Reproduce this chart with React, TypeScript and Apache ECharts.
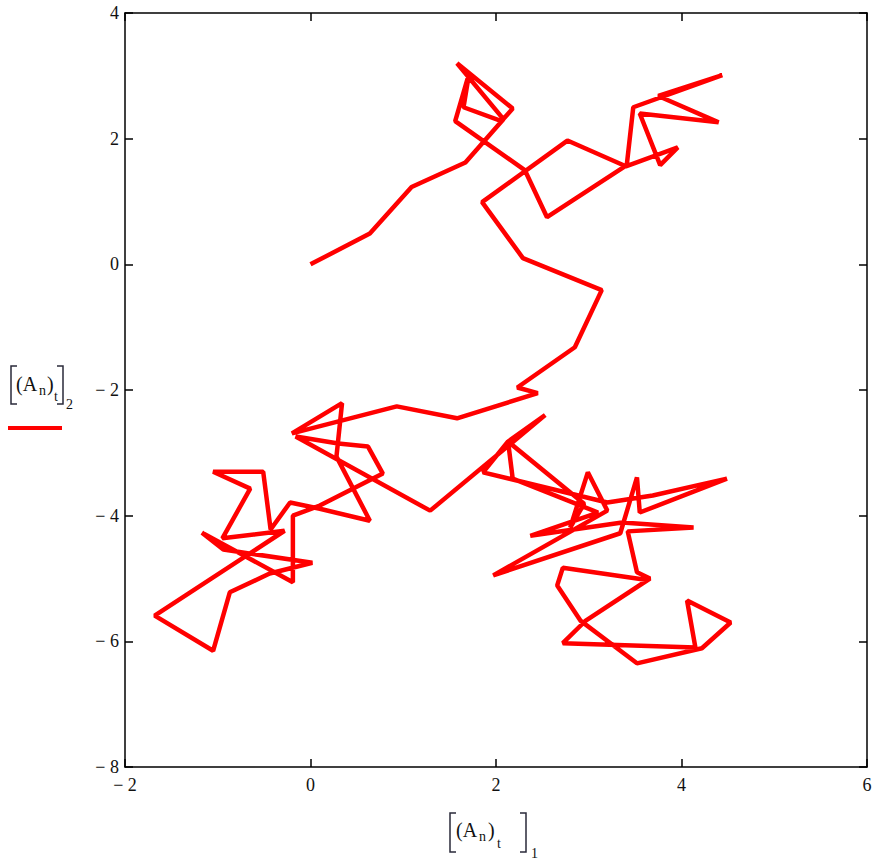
import React, { useEffect, useRef } from "react";
import * as echarts from "echarts";

const xRange = [-2, 6];
const yRange = [-8, 4];
const tickStep = 2;

// random walk path: [(A_n)_t]_1 (x) and [(A_n)_t]_2 (y)
const walkX = [
  0, 0.64, 1.09, 1.67, 2.08, 1.58, 2.18, 2.06, 1.65, 1.71, 1.56, 2.31, 2.55, 3.41, 3.48, 4.44, 3.75, 4.4, 3.55, 3.77,
  3.96, 3.4, 2.77, 1.85, 2.29, 3.14, 2.85, 2.23, 2.45, 1.58, 0.93, -0.2, 0.34, 0.28, 0.64, 0.1, -0.22, -0.43, -0.51,
  -1.05, -0.65, -0.95, -0.28, -1.68, -1.05, -0.87, -0.44, 0.02, -0.94, -1.17, -0.19, -0.19, 0.1, 0.78, 0.62, 0.3,
  -0.16, 1.29, 2.53, 2.13, 2.95, 2.8, 2.99, 3.2, 1.97, 3.34, 3.52, 3.55, 4.49, 3.69, 3.2, 1.86, 2.13, 2.18, 3.1, 2.37,
  3.36, 4.13, 3.42, 3.52, 3.66, 2.96, 2.72, 4.15, 4.06, 4.53, 4.22, 3.52, 2.91, 2.66, 2.72, 3.61,
];
const walkY = [
  0, 0.49, 1.23, 1.62, 2.31, 3.2, 2.48, 2.28, 2.5, 3.04, 2.28, 1.5, 0.75, 1.58, 2.5, 3.01, 2.68, 2.26, 2.4, 1.58,
  1.86, 1.56, 1.97, 0.99, 0.1, -0.41, -1.32, -1.96, -2.05, -2.45, -2.26, -2.69, -2.21, -3.06, -4.08, -3.89, -3.79,
  -4.22, -3.3, -3.3, -3.57, -4.36, -4.24, -5.59, -6.15, -5.22, -4.92, -4.75, -4.54, -4.27, -5.06, -4.0, -3.84, -3.33,
  -2.9, -2.85, -2.74, -3.92, -2.4, -2.82, -3.81, -4.19, -3.31, -3.92, -4.95, -4.28, -3.39, -3.95, -3.41, -3.68, -3.79,
  -3.31, -2.82, -3.41, -3.95, -4.32, -4.11, -4.19, -4.25, -4.9, -5.0, -5.68, -6.03, -6.1, -5.35, -5.7, -6.11, -6.35,
  -5.67, -5.11, -4.83, -5.02,
];

const FONT = "'Liberation Serif', 'Times New Roman', serif";
const INK = "#111111";

export default function App() {
  const ref = useRef<HTMLDivElement>(null);
  useEffect(() => {
    const chart = echarts.init(ref.current!, null, { renderer: "svg" });
    const fmt = (v: number) => (v < 0 ? "\u2212 " + Math.abs(v) : String(v));
    const axisLine = { show: true, onZero: false, lineStyle: { color: "#000", width: 1.5 } };
    const axisTick = { show: true, inside: true, length: 8, lineStyle: { color: "#000", width: 1.5 } };
    const label = { fontFamily: FONT, fontSize: 18, color: INK, formatter: fmt };
    const txt = (text: string, x: number, y: number, size: number) => ({
      type: "text",
      x,
      y,
      style: { text, fontFamily: FONT, fontSize: size, fill: INK, verticalAlign: "middle", align: "left" },
    });
    const bracket = (x: number, top: number, bottom: number, dir: number) => ({
      type: "polyline",
      shape: { points: [[x + dir * 6, top], [x, top], [x, bottom], [x + dir * 6, bottom]] },
      style: { stroke: "#2a2a3a", lineWidth: 1.5, fill: "none" },
    });
    const option = {
      animation: false,
      grid: { left: 125, right: 12, top: 13, bottom: 93, containLabel: false },
      xAxis: [
        {
          type: "value", min: xRange[0], max: xRange[1], interval: tickStep, position: "bottom",
          axisLine, axisTick, splitLine: { show: false }, axisLabel: { ...label, margin: 9 },
        },
        {
          type: "value", min: xRange[0], max: xRange[1], interval: tickStep, position: "top",
          axisLine, axisTick, splitLine: { show: false }, axisLabel: { show: false },
        },
      ],
      yAxis: [
        {
          type: "value", min: yRange[0], max: yRange[1], interval: tickStep, position: "left",
          axisLine, axisTick, splitLine: { show: false }, axisLabel: { ...label, margin: 6 },
        },
        {
          type: "value", min: yRange[0], max: yRange[1], interval: tickStep, position: "right",
          axisLine, axisTick, splitLine: { show: false }, axisLabel: { show: false },
        },
      ],
      series: [
        {
          type: "line",
          xAxisIndex: 0,
          yAxisIndex: 0,
          data: walkX.map((x, i) => [x, walkY[i]]),
          showSymbol: false,
          symbol: "none",
          lineStyle: { color: "#ff0000", width: 4.5 },
        },
      ],
      graphic: [
        // y-axis title [(A_n)_t]_2
        bracket(11, 366, 404, 1),
        txt("(A", 16, 384, 20),
        txt("n", 39, 390, 14),
        txt(")", 47, 384, 20),
        txt("t", 54, 396, 14),
        bracket(63, 366, 404, -1),
        txt("2", 66, 404, 14),
        { type: "line", shape: { x1: 8, y1: 428, x2: 62, y2: 428 }, style: { stroke: "#ff0000", lineWidth: 4 } },
        // x-axis title [(A_n)_t]_1
        bracket(450, 813, 852, 1),
        txt("(A", 456, 830, 20),
        txt("n", 479, 836, 14),
        txt(")", 488, 830, 20),
        txt("t", 497, 843, 14),
        bracket(526, 813, 852, -1),
        txt("1", 531, 853, 14),
      ],
    };
    chart.setOption(option as any);
    return () => chart.dispose();
  }, []);
  return <div ref={ref} style={{ position: "absolute", left: 0, top: 0, width: 879, height: 860 }} />;
}
